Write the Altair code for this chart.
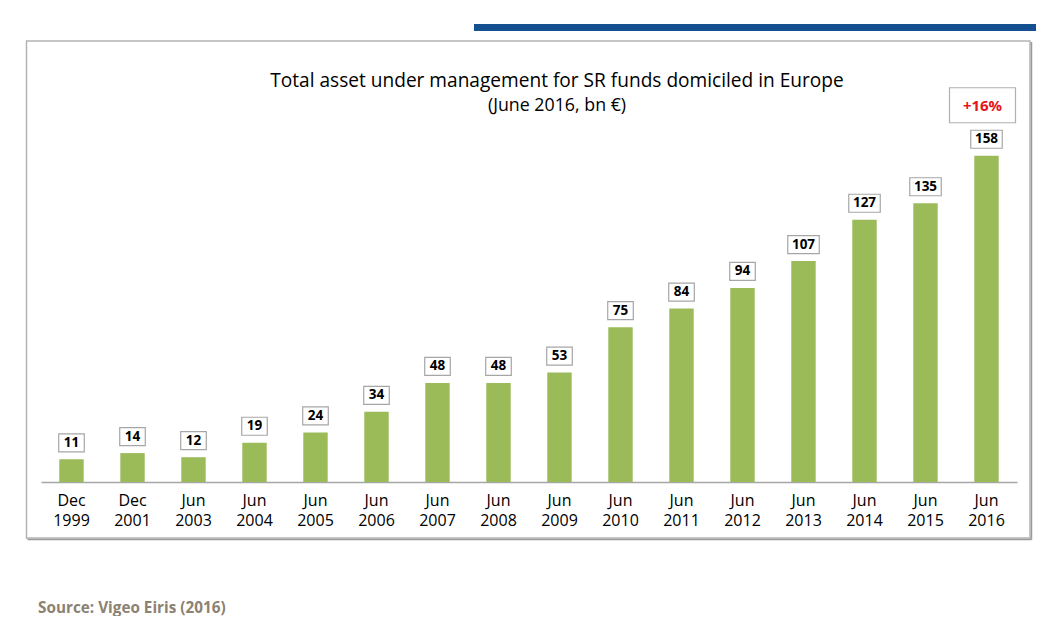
import altair as alt
import pandas as pd

periods = ["Dec 1999", "Dec 2001", "Jun 2003", "Jun 2004", "Jun 2005", "Jun 2006",
           "Jun 2007", "Jun 2008", "Jun 2009", "Jun 2010", "Jun 2011", "Jun 2012",
           "Jun 2013", "Jun 2014", "Jun 2015", "Jun 2016"]
aum = [11, 14, 12, 19, 24, 34, 48, 48, 53, 75, 84, 94, 107, 127, 135, 158]
growth_label = "+16%"
title_text = "Total asset under management for SR funds domiciled in Europe"
subtitle_text = "(June 2016, bn €)"
source_text = "Source: Vigeo Eiris (2016)"

FONT = "Open Sans"
df = pd.DataFrame({"period": periods, "aum": aum})
df["digits"] = df["aum"].astype(str).str.len().astype(str)

x_enc = alt.X("period:N", sort=periods,
              scale=alt.Scale(paddingInner=0.6, paddingOuter=0.3),
              axis=alt.Axis(title=None, labelAngle=0, ticks=False,
                            labelExpr="split(datum.label, ' ')",
                            labelFont=FONT, labelFontSize=16, labelColor="#000000",
                            labelPadding=10, labelLineHeight=20,
                            domainColor="#a6a6a6", domainWidth=1.5))
y_enc = alt.Y("aum:Q", scale=alt.Scale(domain=[0, 200]), axis=None)

base = alt.Chart(df)

bars = base.mark_bar(color="#9bbb59").encode(x=x_enc, y=y_enc)

box2 = "M-1.42,-1H1.42V1H-1.42Z"
box3 = "M-1.75,-1H1.75V1H-1.75Z"
label_boxes = base.mark_point(filled=False, fill="#ffffff", fillOpacity=1,
                              stroke="#a6a6a6", strokeWidth=1.2, opacity=1,
                              yOffset=-16.5, size=324).encode(
    x=alt.X("period:N", sort=periods),
    y="aum:Q",
    shape=alt.Shape("digits:N", scale=alt.Scale(domain=["2", "3"], range=[box2, box3]), legend=None),
)
label_text = base.mark_text(font=FONT, fontSize=13.5, fontWeight="bold", color="#000000",
                            baseline="middle", yOffset=-16.5).encode(
    x=alt.X("period:N", sort=periods), y="aum:Q", text="aum:Q")

last = pd.DataFrame({"period": [periods[-1]], "aum": [aum[-1]], "lab": [growth_label]})
growth_box = alt.Chart(last).mark_point(shape="M-1.886,-1H1.886V1H-1.886Z", size=1225, filled=False,
                                        fill="#ffffff", fillOpacity=1, stroke="#b0b0b0",
                                        strokeWidth=1.2, opacity=1, yOffset=-50.5, xOffset=-4).encode(
    x=alt.X("period:N", sort=periods), y="aum:Q")
growth_text = alt.Chart(last).mark_text(font=FONT, fontSize=15, fontWeight="bold", color="#e8141b",
                                        baseline="middle", yOffset=-50, xOffset=-4).encode(
    x=alt.X("period:N", sort=periods), y="aum:Q", text="lab:N")

deco = pd.DataFrame({"k": [0]})
frame = alt.Chart(deco).mark_rect(fill=None, stroke="#b4b4b4", strokeWidth=1.5).encode(
    x=alt.value(-14.5), x2=alt.value(989), y=alt.value(-28), y2=alt.value(469))
shadow_r = alt.Chart(deco).mark_rule(color="#9a9a9a", strokeWidth=1.5).encode(
    x=alt.value(990.5), y=alt.value(-27), y2=alt.value(470.5))
shadow_b = alt.Chart(deco).mark_rule(color="#9a9a9a", strokeWidth=1.5).encode(
    x=alt.value(-13.5), x2=alt.value(990.5), y=alt.value(470.5))
blue = alt.Chart(deco).mark_rect(color="#14508f").encode(
    x=alt.value(433), x2=alt.value(1010), y=alt.value(-45), y2=alt.value(-38))

title = alt.Chart(deco).mark_text(font=FONT, fontSize=19.1, color="#000000", align="center",
                                  baseline="alphabetic").encode(
    x=alt.value(516), y=alt.value(18), text=alt.value(title_text))
subtitle = alt.Chart(deco).mark_text(font=FONT, fontSize=17.8, color="#000000", align="center",
                                     baseline="alphabetic").encode(
    x=alt.value(516), y=alt.value(41.5), text=alt.value(subtitle_text))
source = alt.Chart(deco).mark_text(font=FONT, fontSize=15.3, fontWeight="bold", color="#8c8272",
                                   align="left", baseline="alphabetic").encode(
    x=alt.value(-3), y=alt.value(544), text=alt.value(source_text))

chart = alt.layer(frame, shadow_r, shadow_b, blue, title, subtitle, bars, label_boxes,
                  label_text, growth_box, growth_text, source).properties(
    width=976, height=413,
    background="#ffffff",
    autosize=alt.AutoSizeParams(type="none"),
    padding={"left": 33, "top": 61, "right": 19, "bottom": 134},
).configure_view(strokeWidth=0, stroke=None)

chart.save("out.html", embed_options={"renderer": "svg", "actions": False})
